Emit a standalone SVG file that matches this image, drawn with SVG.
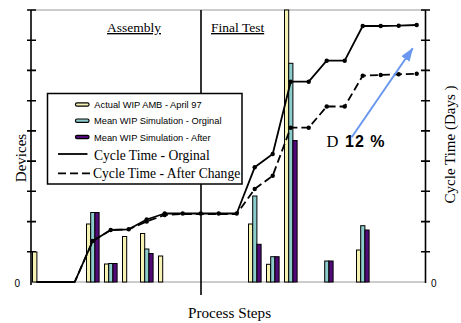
<svg xmlns="http://www.w3.org/2000/svg" width="461" height="323" viewBox="0 0 461 323">
<style>
.serif{font-family:"Liberation Serif","Times New Roman",serif;fill:#000}
.sans{font-family:"Liberation Sans",Arial,sans-serif;fill:#000}
.bar{stroke:#000;stroke-width:1}
.y{fill:#f6f2b4}
.c{fill:#8ccccc}
.p{fill:#520a78}
.ax{stroke:#000;stroke-width:1.6;fill:none}
.grid{stroke:#9a9a9a;stroke-width:1.2;fill:none}
.ct{stroke:#000;stroke-width:1.8;fill:none;stroke-linejoin:round}
.dash{stroke-dasharray:8 4}
.dot{fill:#000}
.sw{stroke:#000;stroke-width:1.2}
</style>
<defs>
<marker id="ah" markerUnits="userSpaceOnUse" markerWidth="14" markerHeight="10" refX="13" refY="5" orient="auto">
<path d="M0,0 L14,5 L0,10 z" fill="#6a98f0"/>
</marker>
</defs>
<rect width="461" height="323" fill="#fff"/>

<g id="axes">
<line class="grid" x1="31" y1="10" x2="425" y2="10"/>
<line class="grid" x1="31" y1="282" x2="425" y2="282"/>
<line class="ax" x1="31" y1="10" x2="31" y2="285"/>
<line class="ax" x1="425.5" y1="10" x2="425.5" y2="283"/>
<path class="ax" d="M27,10H36M27,40.2H36M27,70.4H36M27,100.7H36M27,130.9H36M27,161.1H36M27,191.3H36M27,221.6H36M27,251.8H36"/>
<path class="ax" d="M421,10H430M421,40.2H430M421,70.4H430M421,100.7H430M421,130.9H430M421,161.1H430M421,191.3H430M421,221.6H430M421,251.8H430"/>
<line class="ax" x1="201" y1="10" x2="201" y2="295"/>
<text class="sans" x="14.5" y="287" font-size="10">0</text>
<text class="sans" x="431" y="287" font-size="10">0</text>
</g>

<g id="bars">
<rect class="bar y" x="32.5" y="252" width="4.4" height="30"/>
<rect class="bar y" x="86.5" y="224" width="4.2" height="58"/>
<rect class="bar c" x="90.7" y="212.5" width="4.2" height="69.5"/>
<rect class="bar p" x="94.9" y="212.5" width="4.2" height="69.5"/>
<rect class="bar y" x="104.5" y="264" width="4.2" height="18"/>
<rect class="bar c" x="108.7" y="263.5" width="4.2" height="18.5"/>
<rect class="bar p" x="112.9" y="263.5" width="4.2" height="18.5"/>
<rect class="bar y" x="122.5" y="236.5" width="4.2" height="45.5"/>
<rect class="bar y" x="140.5" y="233.5" width="4.2" height="48.5"/>
<rect class="bar c" x="144.7" y="249" width="4.2" height="33"/>
<rect class="bar p" x="148.9" y="253.5" width="4.2" height="28.5"/>
<rect class="bar y" x="158.5" y="256" width="4.2" height="26"/>
<rect class="bar y" x="248.5" y="224" width="4.2" height="58"/>
<rect class="bar c" x="252.7" y="196" width="4.2" height="86"/>
<rect class="bar p" x="256.9" y="244.3" width="4.2" height="37.7"/>
<rect class="bar y" x="266.5" y="264.3" width="4.2" height="17.7"/>
<rect class="bar c" x="270.7" y="256.7" width="4.2" height="25.3"/>
<rect class="bar p" x="274.9" y="256.7" width="4.2" height="25.3"/>
<rect class="bar y" x="284.5" y="10" width="4.2" height="272"/>
<rect class="bar c" x="288.7" y="63.3" width="4.2" height="218.7"/>
<rect class="bar p" x="292.9" y="140.5" width="4.2" height="141.5"/>
<rect class="bar c" x="324.7" y="261" width="4.2" height="21"/>
<rect class="bar p" x="328.9" y="261" width="4.2" height="21"/>
<rect class="bar y" x="356.5" y="250" width="4.2" height="32"/>
<rect class="bar c" x="360.7" y="225.7" width="4.2" height="56.3"/>
<rect class="bar p" x="364.9" y="230" width="4.2" height="52"/>
</g>

<g id="connectors">
<path id="ct-orig" class="ct" d="M36.5,282 L74.7,282 L92.7,241 L110.7,230 L128.7,229.3 L146.7,219.5 L164.7,213.5 L182.7,213.5 L200.7,213.5 L218.7,213.5 L236.7,213.5 L254.7,167.3 L272.7,154 L290.7,81.7 L308.7,81.7 L326.7,60.7 L344.7,60.7 L362.7,26 L380.7,26 L398.7,25.7 L416.7,25"/>
<path id="ct-after" class="ct dash" d="M36.5,282 L74.7,282 L92.7,241 L110.7,230 L128.7,229.3 L146.7,221.5 L164.7,215 L182.7,214 L200.7,214 L218.7,214 L236.7,214 L254.7,189 L272.7,175.7 L290.7,127.7 L308.7,127.7 L326.7,106.5 L344.7,106.5 L362.7,75.7 L380.7,75 L398.7,74.3 L416.7,73.7"/>
<g class="dot">
<circle cx="92.7" cy="241" r="2.2"/><circle cx="110.7" cy="230" r="2.2"/><circle cx="128.7" cy="229.3" r="2.2"/><circle cx="146.7" cy="219.5" r="2.2"/><circle cx="164.7" cy="213.5" r="2.2"/><circle cx="182.7" cy="213.5" r="2.2"/><circle cx="200.7" cy="213.5" r="2.2"/><circle cx="218.7" cy="213.5" r="2.2"/><circle cx="236.7" cy="213.5" r="2.2"/><circle cx="254.7" cy="167.3" r="2.2"/><circle cx="272.7" cy="154" r="2.2"/><circle cx="290.7" cy="81.7" r="2.2"/><circle cx="308.7" cy="81.7" r="2.2"/><circle cx="326.7" cy="60.7" r="2.2"/><circle cx="344.7" cy="60.7" r="2.2"/><circle cx="362.7" cy="26" r="2.2"/><circle cx="380.7" cy="26" r="2.2"/><circle cx="398.7" cy="25.7" r="2.2"/><circle cx="416.7" cy="25" r="2.2"/>
<circle cx="146.7" cy="221.5" r="2.2"/><circle cx="164.7" cy="215" r="2.2"/><circle cx="254.7" cy="189" r="2.2"/><circle cx="272.7" cy="175.7" r="2.2"/><circle cx="290.7" cy="127.7" r="2.2"/><circle cx="308.7" cy="127.7" r="2.2"/><circle cx="326.7" cy="106.5" r="2.2"/><circle cx="344.7" cy="106.5" r="2.2"/><circle cx="362.7" cy="75.7" r="2.2"/><circle cx="380.7" cy="75" r="2.2"/><circle cx="398.7" cy="74.3" r="2.2"/><circle cx="416.7" cy="73.7" r="2.2"/>
</g>
<line id="arrow" x1="351.7" y1="137.3" x2="412.7" y2="48.3" stroke="#6a98f0" stroke-width="2" marker-end="url(#ah)"/>
</g>

<g id="legend">
<rect x="47.5" y="93.5" width="194.5" height="90.5" fill="#fff" stroke="#000" stroke-width="1.5"/>
<rect class="sw y" x="75.5" y="102.8" width="13.5" height="3.4" rx="1.5"/>
<rect class="sw c" x="75.5" y="119" width="13.5" height="3.4" rx="1.5"/>
<rect class="sw p" x="75.5" y="135.3" width="13.5" height="3.4" rx="1.5"/>
<text class="sans" x="94.3" y="108" font-size="9.3">Actual WIP AMB - April 97</text>
<text class="sans" x="94" y="124.3" font-size="9.3">Mean WIP Simulation - Orginal</text>
<text class="sans" x="94" y="140.6" font-size="9.3">Mean WIP Simulation - After</text>
<line x1="58" y1="154" x2="87.5" y2="154" stroke="#000" stroke-width="1.8"/>
<line x1="58" y1="173.3" x2="93" y2="173.3" stroke="#000" stroke-width="1.8" stroke-dasharray="8 4"/>
<text class="serif" x="94" y="160" font-size="13.6">Cycle Time - Orginal</text>
<text class="serif" x="93" y="177.5" font-size="13.6">Cycle Time - After Change</text>
</g>

<g id="labels">
<text class="serif" x="107" y="32" font-size="13.5" text-decoration="underline">Assembly</text>
<text class="serif" x="211" y="32" font-size="13.5" text-decoration="underline">Final Test</text>
<text class="serif" x="326.5" y="146.5" font-size="16.5">D</text>
<text class="sans" x="345" y="146.5" font-size="16" font-weight="bold" letter-spacing="1">12 %</text>
<text class="serif" x="188" y="317.5" font-size="15.2">Process Steps</text>
<text class="serif" transform="translate(26,158) rotate(-90)" text-anchor="middle" font-size="15">Devices</text>
<text class="serif" transform="translate(455,144.5) rotate(-90)" text-anchor="middle" font-size="15">Cycle Time (Days )</text>
</g>
</svg>
